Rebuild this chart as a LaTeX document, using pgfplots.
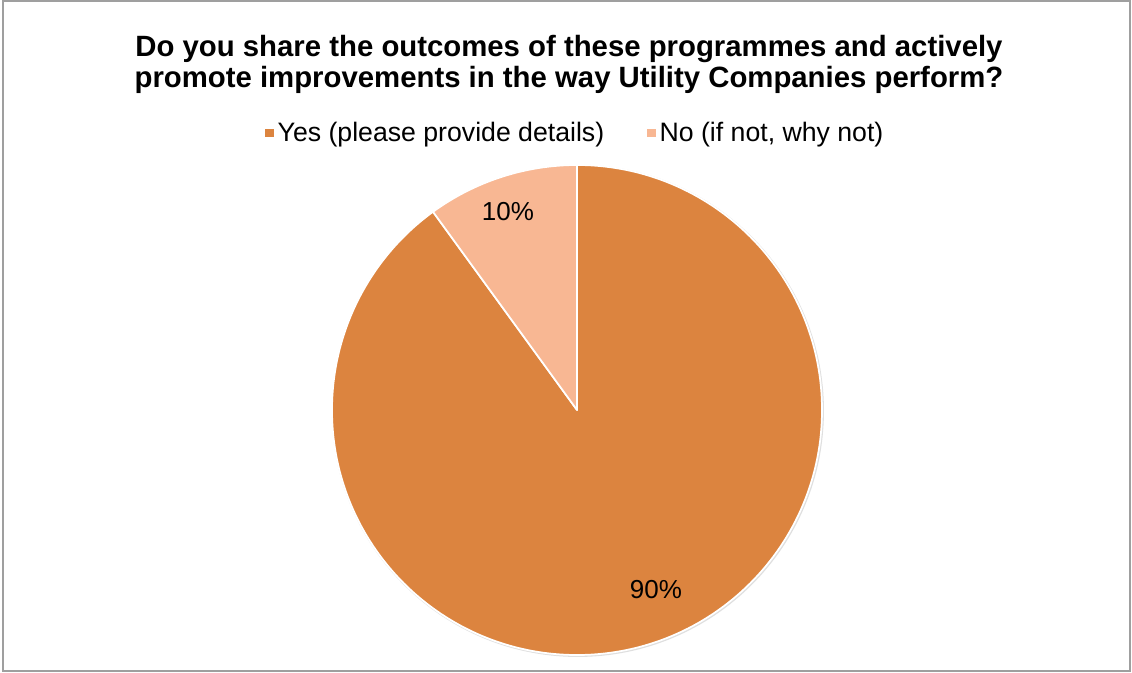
\documentclass[border=0pt]{standalone}
\usepackage{fontspec}
\setmainfont{Liberation Sans}
\usepackage{pgfplots}
\usepackage{pgfplotstable}
\pgfplotsset{compat=1.18}
\definecolor{yescol}{RGB}{220,132,63}
\definecolor{nocol}{RGB}{248,183,147}
\pgfplotstableread{
label value
Yes 90
No 10
}\piedata
\begin{document}%
\begin{tikzpicture}
\pgfplotstablegetelem{0}{value}\of\piedata \let\vyes\pgfplotsretval
\pgfplotstablegetelem{1}{value}\of\piedata \let\vno\pgfplotsretval
\pgfmathsetmacro\total{\vyes+\vno}
\pgfmathsetmacro\noend{90+360*(\vno/\total)}
\pgfmathsetmacro\yesend{90-360*(\vyes/\total)}
\begin{axis}[
  width=849pt, height=504pt, scale only axis,
  xmin=0, xmax=1132, ymin=0, ymax=672,
  hide axis, clip=false,
  legend columns=2,
  legend image code/.code={\fill[#1, draw=none] (0pt,-3.3pt) rectangle (6.5pt,3.3pt);},
  legend style={at={(0.509,0.802)}, anchor=center, draw=none, fill=none,
    font=\fontsize{20}{23}\selectfont, inner sep=0pt,
    nodes={inner xsep=3pt, inner ysep=1pt},
    /tikz/every even column/.append style={column sep=29pt}},
]
\path (axis cs:0,0) rectangle (axis cs:1132,672);
\draw[color=gray!75, line width=0.9pt] (axis cs:3,1) rectangle (axis cs:1130,671);
\addlegendimage{fill=yescol, draw=none}
\addlegendentry{Yes (please provide details)}
\addlegendimage{fill=nocol, draw=none}
\addlegendentry{No (if not, why not)}
\fill[gray!25] (axis cs:577.8,261.2) circle[radius=184.6pt];
\filldraw[fill=yescol, draw=white, line width=1.3pt, line join=round]
  (axis cs:577,262) -- ++(90:183.75pt) arc[start angle=90, end angle=\yesend, radius=183.75pt] -- cycle;
\filldraw[fill=nocol, draw=white, line width=1.3pt, line join=round]
  (axis cs:577,262) -- ++(90:183.75pt) arc[start angle=90, end angle=\noend, radius=183.75pt] -- cycle;
\node[font=\fontsize{19.5}{22}\selectfont] at (axis cs:508,460) {10\%};
\node[font=\fontsize{19.5}{22}\selectfont] at (axis cs:656,82) {90\%};
\node[align=center, font=\bfseries\fontsize{22}{23.6}\selectfont] at (axis cs:569,607.5)
  {Do you share the outcomes of these programmes and actively\\promote improvements in the way Utility Companies perform?};
\end{axis}
\end{tikzpicture}%
\end{document}
